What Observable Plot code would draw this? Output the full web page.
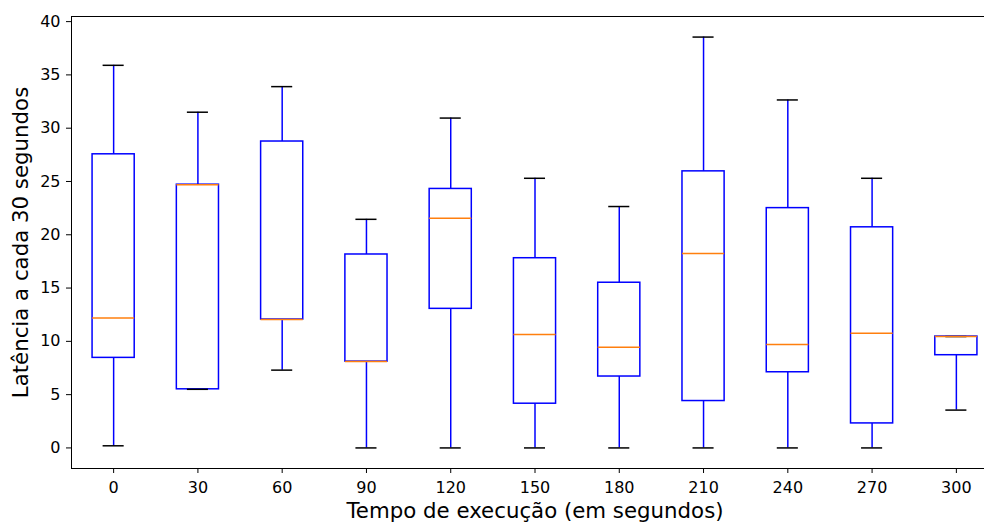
<!DOCTYPE html>
<html>
<head>
<meta charset="utf-8">
<script src="https://cdn.jsdelivr.net/npm/d3@7"></script>
<script src="https://cdn.jsdelivr.net/npm/@observablehq/plot@0.6"></script>
<style>
  html, body { margin: 0; padding: 0; background: white; overflow: hidden; width: 984px; height: 522px; }
  #chart { width: 984px; height: 522px; overflow: hidden; }
</style>
</head>
<body>
<div id="chart"></div>
<script>
// Data
const categories   = [0, 30, 60, 90, 120, 150, 180, 210, 240, 270, 300];
const whiskerLow   = [0.2, 5.5, 7.3, 0, 0, 0, 0, 0, 0, 0, 3.55];
const q1           = [8.45, 5.5, 12.05, 8.1, 13.05, 4.15, 6.7, 4.4, 7.1, 2.3, 8.7];
const median       = [12.2, 24.7, 12.05, 8.1, 21.55, 10.65, 9.45, 18.25, 9.7, 10.75, 10.45];
const q3           = [27.55, 24.7, 28.75, 18.15, 24.3, 17.8, 15.5, 25.95, 22.5, 20.7, 10.45];
const whiskerHigh  = [35.9, 31.5, 33.9, 21.45, 30.95, 25.3, 22.65, 38.55, 32.65, 25.3, 10.45];
const yTicks       = [0, 5, 10, 15, 20, 25, 30, 35, 40];
const xLabel = "Tempo de execução (em segundos)";
const yLabel = "Latência a cada 30 segundos";

const step = 30;
const boxHalf = step * 0.25;
const capHalf = step * 0.125;
const xDomain = [categories[0] - step / 2, categories[categories.length - 1] + step / 2];
const yDomain = [-1.93, 40.48];

const rows = categories.map((c, i) => ({
  t: c,
  lo: whiskerLow[i], q1: q1[i], med: median[i], q3: q3[i], hi: whiskerHigh[i],
  bx1: c - boxHalf, bx2: c + boxHalf,
  cx1: c - capHalf, cx2: c + capHalf
}));

const font = "DejaVu Sans, sans-serif";
const blue = "#0000ff";
const orange = "#ff7f0e";

const chart = Plot.plot({
  width: 998,
  height: 522,
  marginLeft: 71,
  marginRight: 0,
  marginTop: 16,
  marginBottom: 54,
  style: { fontFamily: font, background: "white", color: "black", maxWidth: "none" },
  x: { type: "linear", domain: xDomain },
  y: { domain: yDomain },
  marks: [
    // whiskers
    Plot.ruleX(rows, { x: "t", y1: "q3", y2: "hi", stroke: blue, strokeWidth: 1.5 }),
    Plot.ruleX(rows, { x: "t", y1: "lo", y2: "q1", stroke: blue, strokeWidth: 1.5 }),
    // boxes
    Plot.rect(rows, { x1: "bx1", x2: "bx2", y1: "q1", y2: "q3", fill: "none", stroke: blue, strokeWidth: 1.5 }),
    // caps
    Plot.ruleY(rows, { y: "hi", x1: "cx1", x2: "cx2", stroke: "black", strokeWidth: 1.5 }),
    Plot.ruleY(rows, { y: "lo", x1: "cx1", x2: "cx2", stroke: "black", strokeWidth: 1.5 }),
    // medians
    Plot.ruleY(rows, { y: "med", x1: "bx1", x2: "bx2", stroke: orange, strokeWidth: 1.5 }),
    // spines
    Plot.frame({ stroke: "black", strokeWidth: 1 }),
    Plot.axisY({ ticks: yTicks, tickSize: 5, tickPadding: 6, fontSize: 16, label: null, stroke: "black" }),
    Plot.axisX({ ticks: categories, tickFormat: d => String(d), tickSize: 5, tickPadding: 8, fontSize: 16, label: null, stroke: "black" }),
    Plot.text([yLabel], { frameAnchor: "left", dx: -50, rotate: -90, textAnchor: "middle", lineAnchor: "middle", text: d => d, fontSize: 21.3, fill: "black" }),
    Plot.text([xLabel], { frameAnchor: "bottom", dy: 43, textAnchor: "middle", lineAnchor: "middle", text: d => d, fontSize: 21.3, fill: "black" })
  ]
});
document.getElementById("chart").appendChild(chart);
</script>
</body>
</html>
